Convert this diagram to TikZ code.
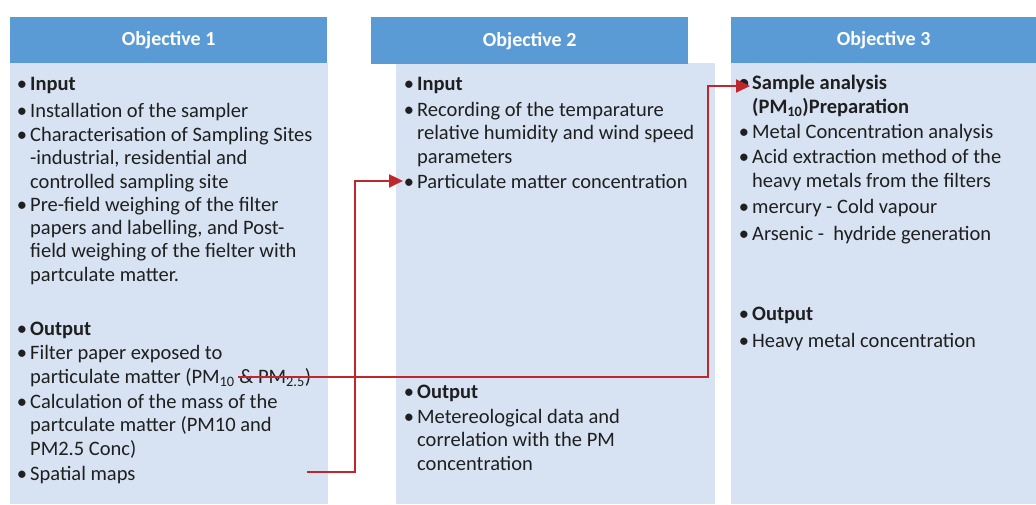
\documentclass[tikz,border=0pt]{standalone}
\usepackage{fontspec}
\setmainfont{Carlito}
\usetikzlibrary{arrows.meta}
\definecolor{hdr}{HTML}{5B9BD5}
\definecolor{bdy}{HTML}{D7E2F2}
\definecolor{arr}{HTML}{C0272D}
\definecolor{txt}{HTML}{1F1F1F}
\newcommand{\bul}{\llap{\textbullet\kern3pt}}
\begin{document}
\begin{tikzpicture}[x=1pt,y=-1pt,
  hbox/.style={anchor=north west, fill=hdr, inner sep=0, text=white, font=\fontsize{20}{22}\selectfont\bfseries},
  bbox/.style={anchor=north west, fill=bdy, inner sep=0},
  itm/.style={anchor=base west, align=left, inner sep=0, text=txt, font=\fontsize{20.5}{23.2}\selectfont},
  link/.style={draw=arr, line width=2pt, -{Triangle[length=14pt,width=13pt]}}]
\useasboundingbox (0,0) rectangle (1036,504);
\fill[white] (0,0) rectangle (1036,504);
% bodies
\node[bbox, minimum width=318pt, minimum height=441pt] (b1) at (10,63) {};
\node[bbox, minimum width=319pt, minimum height=441pt] (b2) at (396,63) {};
\node[bbox, minimum width=305pt, minimum height=441pt] (b3) at (731,63) {};
% headers
\node[hbox, minimum width=317pt, minimum height=46pt] (h1) at (10,17) {Objective 1};
\node[hbox, minimum width=317pt, minimum height=47pt] (h2) at (371,17) {Objective 2};
\node[hbox, minimum width=305pt, minimum height=46pt] (h3) at (731,17) {Objective 3};
% objective 1 (multi-line nodes: base = last line)
\node[itm] (i11) at (30,90) {\bul\textbf{Input}};
\node[itm] (i12) at (30,117) {\bul Installation of the sampler};
\node[itm] (i13) at (30,188) {\bul Characterisation of Sampling Sites\\-industrial, residential and\\controlled sampling site};
\node[itm] (i14) at (30,281) {\bul Pre-field weighing of the filter\\papers and labelling, and Post-\\field weighing of the fielter with\\partculate matter.};
\node[itm] (i15) at (30,335) {\bul\textbf{Output}};
\node[itm] (i16) at (30,383) {\bul Filter paper exposed to\\particulate matter (PM\textsubscript{10} \& PM\textsubscript{2.5})};
\node[itm] (i17) at (30,455) {\bul Calculation of the mass of the\\partculate matter (PM10 and\\PM2.5 Conc)};
\node[itm] (i18) at (30,480) {\bul Spatial maps};
% objective 2
\node[itm] (i21) at (417,90) {\bul\textbf{Input}};
\node[itm] (i22) at (417,163) {\bul Recording of the temparature\\relative humidity and wind speed\\parameters};
\node[itm] (i23) at (417,188) {\bul Particulate matter concentration};
\node[itm] (i24) at (417,398) {\bul\textbf{Output}};
\node[itm] (i25) at (417,470) {\bul Metereological data and\\correlation with the PM\\concentration};
% objective 3
\node[itm, font=\fontsize{20.5}{23.2}\selectfont\bfseries] (i31) at (752,113) {\bul Sample analysis\\(PM\textsubscript{10})Preparation};
\node[itm] (i32) at (752,138) {\bul Metal Concentration analysis};
\node[itm] (i33) at (752,187) {\bul Acid extraction method of the\\heavy metals from the filters};
\node[itm] (i34) at (752,213) {\bul mercury - Cold vapour};
\node[itm] (i35) at (752,240) {\bul Arsenic -\ \ hydride generation};
\node[itm] (i36) at (752,320) {\bul\textbf{Output}};
\node[itm] (i37) at (752,347) {\bul Heavy metal concentration};
% connectors
\coordinate (s1) at (307,472);
\coordinate (s2) at (238,377);
\draw[link] (s1) -- ++(48,0) |- ([xshift=-14pt]i23.west);
\draw[link] (s2) -- ++(470,0) |- ([xshift=-2pt,yshift=27pt]i31.base west);
\end{tikzpicture}
\end{document}
